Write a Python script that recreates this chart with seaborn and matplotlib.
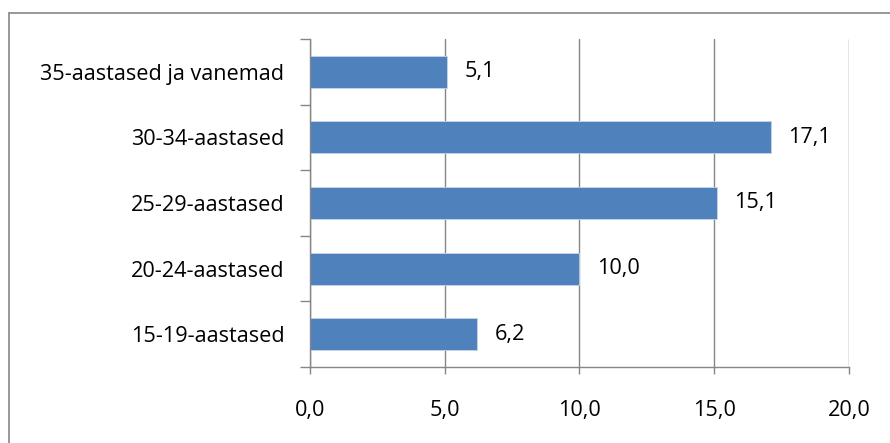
import numpy as np
import pandas as pd
import matplotlib
matplotlib.use("Agg")
import matplotlib.pyplot as plt
import seaborn as sns
from matplotlib.lines import Line2D

# Andmed (ülevalt alla)
vanuserühmad = ["35-aastased ja vanemad", "30-34-aastased", "25-29-aastased",
                "20-24-aastased", "15-19-aastased"]
osakaal = [5.1, 17.1, 15.1, 10.0, 6.2]
x_ticks = [0, 5, 10, 15, 20]

df = pd.DataFrame({"grupp": vanuserühmad, "vaartus": osakaal})

sns.set_theme(style="white")
plt.rcParams["font.family"] = ["Open Sans", "DejaVu Sans"]

gray = "#868686"
fs = 15.6
fig = plt.figure(figsize=(8.9, 4.43), dpi=100)
ax = fig.add_axes([0.3483, 0.1716, 0.6056, 0.7404])

sns.barplot(data=df, y="grupp", x="vaartus", order=vanuserühmad, orient="h",
            color="#4F81BD", saturation=1, width=0.49, edgecolor="#C6D4E8",
            linewidth=0.6, ax=ax)

ax.set_xlim(0, 20)
ax.set_ylim(len(vanuserühmad) - 0.5, -0.5)
ax.set_xticks(x_ticks)
ax.set_xticklabels([f"{v:.1f}".replace(".", ",") for v in x_ticks])
ax.set_xlabel("")
ax.set_ylabel("")

# vertikaalsed ruudujooned
ax.grid(axis="x", color=gray, linewidth=1)
ax.set_axisbelow(True)

for s in ["top", "right"]:
    ax.spines[s].set_visible(False)
for s in ["left", "bottom"]:
    ax.spines[s].set_color(gray)
    ax.spines[s].set_linewidth(1)

# kategooria eraldajad
ax.set_yticks(np.arange(len(vanuserühmad) + 1) - 0.5, minor=True)
ax.tick_params(axis="y", which="minor", length=7.2, width=1, color=gray, left=True)
ax.tick_params(axis="y", which="major", length=0, pad=18.5, labelsize=fs,
               labelcolor="black")
ax.tick_params(axis="x", which="major", length=5, width=1, color=gray, bottom=True,
               pad=18.5, labelsize=fs, labelcolor="black")

# väärtused
for cont in ax.containers:
    ax.bar_label(cont, labels=[f"{v:.1f}".replace(".", ",") for v in osakaal],
                 padding=12.5, fontsize=fs, color="black")

# raam
fig.add_artist(Line2D([9 / 890, 9 / 890], [0, 1 - 13 / 443], color=gray, lw=1.2,
                      transform=fig.transFigure))
fig.add_artist(Line2D([9 / 890, 1], [1 - 13 / 443, 1 - 13 / 443], color=gray, lw=1.2,
                      transform=fig.transFigure))

fig.savefig("out.png", dpi=100, facecolor="white")
